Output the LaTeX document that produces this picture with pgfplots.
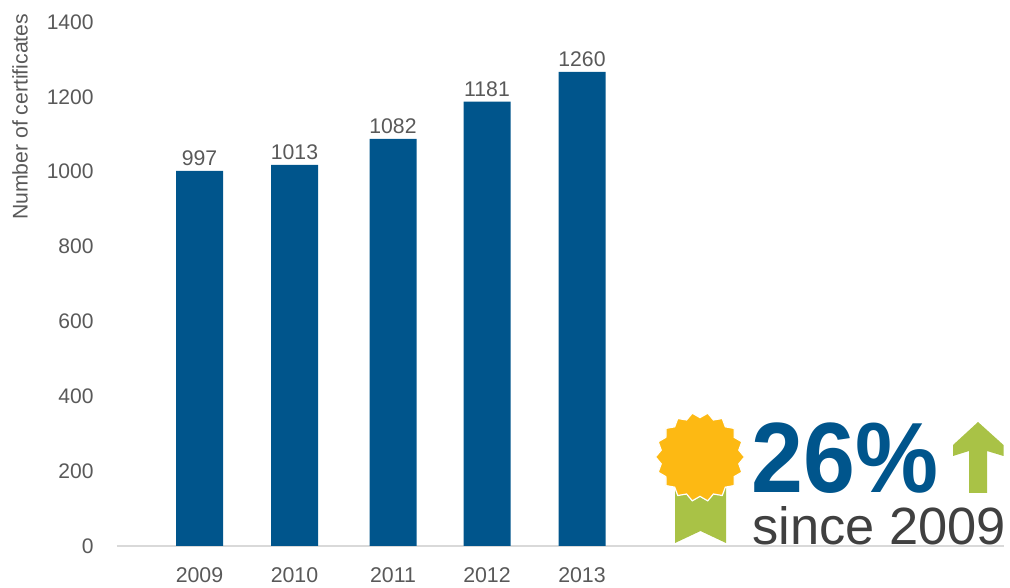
\documentclass[border=0pt]{standalone}
\usepackage{graphicx}
\usepackage{fontspec}
\setmainfont{Liberation Sans}
\usepackage{pgfplots}
\pgfplotsset{compat=1.18}
\usetikzlibrary{shapes.geometric}
\definecolor{barblue}{HTML}{00558C}
\definecolor{labgray}{HTML}{595959}
\definecolor{darkgray}{HTML}{404040}
\definecolor{ribgreen}{HTML}{A9C246}
\definecolor{gold}{HTML}{FDB913}
\definecolor{axisgray}{HTML}{D9D9D9}
\begin{document}
\begin{tikzpicture}
\useasboundingbox (0,0) rectangle (757.5pt,441pt);
\begin{axis}[
    at={(87.75pt,31.5pt)}, anchor=south west,
    scale only axis,
    width=665.25pt, height=393pt,
    xmin=117, xmax=1004,
    ymin=0, ymax=1400,
    axis x line*=bottom,
    axis y line*=left,
    y axis line style={draw=none},
    x axis line style={draw=axisgray,line width=1.1pt,-},
    major tick length=0pt,
    xtick={199.5,294.5,393,487,582},
    xticklabels={2009,2010,2011,2012,2013},
    ytick={0,200,...,1400},
    /pgf/number format/assume math mode=true,
    /pgf/number format/set thousands separator={},
    tick label style={text=labgray},
    xticklabel style={font=\fontsize{16}{18}\selectfont,yshift=-12.5pt},
    yticklabel style={font=\fontsize{15.8}{18}\selectfont,xshift=-14pt},
    ylabel={Number of certificates},
    ylabel style={at={(rel axis cs:0,0.819)},anchor=center,yshift=72.75pt,
        font=\fontsize{15.9}{18}\selectfont,text=labgray},
    clip=false,
    ybar,
    bar width=47,
    nodes near coords,
    point meta=explicit symbolic,
    every node near coord/.append style={font=\fontsize{15.9}{18}\selectfont,
        text=labgray,yshift=0.5pt},
]
\addplot[fill=barblue,draw=none] coordinates {
    (199.5,1002)[997] (294.5,1018)[1013] (393,1088)[1082] (487,1187)[1181] (582,1267)[1260]};
\end{axis}
% badge: scope coordinates are reference pixels, y downwards
\begin{scope}[x=0.75pt,y=-0.75pt,yshift=441pt]
\fill[ribgreen] (675,488) -- (726,488) -- (726,543) -- (700.5,531) -- (675,543) -- cycle;
\node[star,star points=18,star point ratio=1.13,minimum size=66.75pt,inner sep=0pt,
    fill=gold,draw=white,line width=0.9pt,shape border rotate=10] at (700,457) {};
\fill[ribgreen] (978,422) -- (1003.5,445) -- (1003.5,456) -- (987,451) -- (987,493)
    -- (969,493) -- (969,451) -- (953,456) -- (953,445) -- cycle;
\node[anchor=base west,inner sep=0pt,text=barblue,font=\fontsize{70}{72}\bfseries]
    at (751,493) {\scalebox{1}[1.07]{26\%}};
\node[anchor=base west,inner sep=0pt,text=darkgray,font=\fontsize{39.3}{42}\selectfont]
    at (752,545) {since 2009};
\end{scope}
\end{tikzpicture}
\end{document}
